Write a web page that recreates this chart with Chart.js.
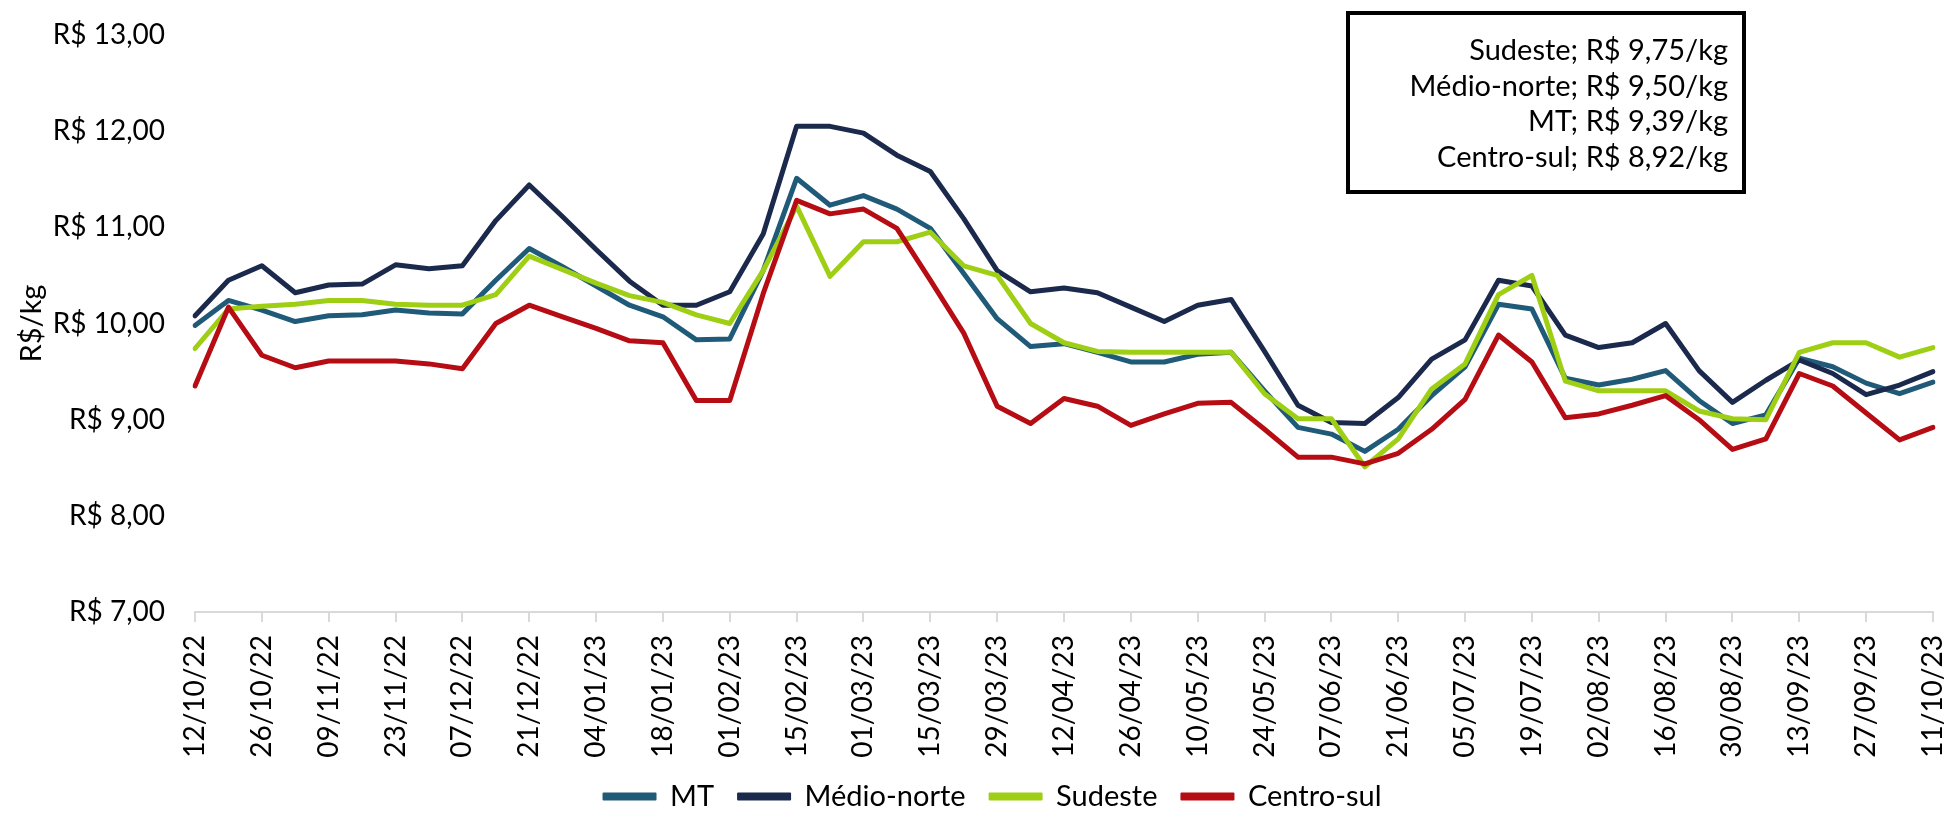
<!DOCTYPE html>
<html>
<head>
<meta charset="utf-8">
<script src="https://cdn.jsdelivr.net/npm/chart.js@4.4.1/dist/chart.umd.min.js"></script>
<style>
  html, body { margin: 0; padding: 0; background: #fff; }
</style>
</head>
<body>
<canvas id="grafico" width="1952" height="813"></canvas>
<script>
// Semanas (quarta-feira)
var datas = [
  "12/10/22", "19/10/22", "26/10/22", "02/11/22", "09/11/22", "16/11/22", "23/11/22", "30/11/22",
  "07/12/22", "14/12/22", "21/12/22", "28/12/22", "04/01/23", "11/01/23", "18/01/23", "25/01/23",
  "01/02/23", "08/02/23", "15/02/23", "22/02/23", "01/03/23", "08/03/23", "15/03/23", "22/03/23",
  "29/03/23", "05/04/23", "12/04/23", "19/04/23", "26/04/23", "03/05/23", "10/05/23", "17/05/23",
  "24/05/23", "31/05/23", "07/06/23", "14/06/23", "21/06/23", "28/06/23", "05/07/23", "12/07/23",
  "19/07/23", "26/07/23", "02/08/23", "09/08/23", "16/08/23", "23/08/23", "30/08/23", "06/09/23",
  "13/09/23", "20/09/23", "27/09/23", "04/10/23", "11/10/23"
];

// Preços R$/kg por região
var precoMT = [
  9.98, 10.24, 10.14, 10.02, 10.08, 10.09, 10.14, 10.11, 10.10, 10.45, 10.78, 10.59, 10.39, 10.19,
  10.07, 9.83, 9.84, 10.55, 11.51, 11.23, 11.33, 11.19, 10.99, 10.52, 10.05, 9.76, 9.79, 9.70,
  9.60, 9.60, 9.68, 9.70, 9.30, 8.92, 8.85, 8.67, 8.90, 9.25, 9.55, 10.20, 10.15, 9.43,
  9.36, 9.42, 9.51, 9.20, 8.96, 9.05, 9.64, 9.55, 9.38, 9.27, 9.39
];
var precoMedioNorte = [
  10.08, 10.45, 10.60, 10.32, 10.40, 10.41, 10.61, 10.57, 10.60, 11.07, 11.44, 11.11, 10.77, 10.44,
  10.19, 10.19, 10.33, 10.93, 12.05, 12.05, 11.98, 11.75, 11.58, 11.09, 10.55, 10.33, 10.37, 10.32,
  10.17, 10.02, 10.19, 10.25, 9.71, 9.15, 8.97, 8.96, 9.23, 9.63, 9.83, 10.45, 10.39, 9.88,
  9.75, 9.80, 10.00, 9.51, 9.18, 9.41, 9.62, 9.48, 9.26, 9.36, 9.50
];
var precoSudeste = [
  9.74, 10.15, 10.18, 10.20, 10.24, 10.24, 10.20, 10.19, 10.19, 10.30, 10.70, 10.56, 10.42, 10.29,
  10.22, 10.09, 10.00, 10.55, 11.22, 10.49, 10.85, 10.85, 10.95, 10.60, 10.50, 10.00, 9.80, 9.71,
  9.70, 9.70, 9.70, 9.70, 9.27, 9.01, 9.01, 8.51, 8.80, 9.32, 9.58, 10.30, 10.50, 9.40,
  9.30, 9.30, 9.30, 9.09, 9.01, 9.00, 9.70, 9.80, 9.80, 9.65, 9.75
];
var precoCentroSul = [
  9.35, 10.17, 9.67, 9.54, 9.61, 9.61, 9.61, 9.58, 9.53, 10.00, 10.19, 10.07, 9.95, 9.82,
  9.80, 9.20, 9.20, 10.31, 11.28, 11.14, 11.19, 10.99, 10.45, 9.90, 9.14, 8.96, 9.22, 9.14,
  8.94, 9.06, 9.17, 9.18, 8.90, 8.61, 8.61, 8.54, 8.65, 8.90, 9.21, 9.88, 9.60, 9.02,
  9.06, 9.15, 9.25, 9.00, 8.69, 8.80, 9.48, 9.35, 9.07, 8.79, 8.92
];

var regioes = ["MT", "Médio-norte", "Sudeste", "Centro-sul"];
var cores = ["#205a79", "#1b2a4c", "#9fcf14", "#b60c13"];
var series = [precoMT, precoMedioNorte, precoSudeste, precoCentroSul];

var fonte = "Lato, 'Open Sans', sans-serif";
Chart.defaults.font.family = fonte;
Chart.defaults.color = "#000";

function formatarReal(v) {
  return "R$ " + v.toFixed(2).replace(".", ",");
}

// Caixa com o último preço de cada região (ordem decrescente)
var caixaUltimoPreco = {
  id: "caixaUltimoPreco",
  afterDraw: function (chart) {
    var ctx = chart.ctx;
    var itens = regioes.map(function (nome, i) {
      return { nome: nome, valor: series[i][series[i].length - 1] };
    });
    itens.sort(function (a, b) { return b.valor - a.valor; });

    ctx.save();
    ctx.fillStyle = "#fff";
    ctx.fillRect(1348, 13, 396, 179);
    ctx.lineWidth = 4;
    ctx.strokeStyle = "#000";
    ctx.strokeRect(1348, 13, 396, 179);

    ctx.fillStyle = "#000";
    ctx.font = "29px " + fonte;
    ctx.textAlign = "right";
    ctx.textBaseline = "middle";
    for (var i = 0; i < itens.length; i++) {
      ctx.fillText(itens[i].nome + "; " + formatarReal(itens[i].valor) + "/kg", 1728, 51 + i * 35.5);
    }
    ctx.restore();
  }
};

var datasets = regioes.map(function (nome, i) {
  return {
    label: nome,
    data: series[i],
    borderColor: cores[i],
    backgroundColor: cores[i],
    borderWidth: 5,
    pointRadius: 0,
    tension: 0,
    borderJoinStyle: "round",
    borderCapStyle: "round",
    order: 4 - i // Centro-sul desenhado por cima
  };
});

new Chart(document.getElementById("grafico"), {
  type: "line",
  data: {
    labels: datas,
    datasets: datasets
  },
  options: {
    responsive: false,
    animation: false,
    layout: {
      padding: { top: 35, right: 19, bottom: -8, left: 52 }
    },
    plugins: {
      tooltip: { enabled: false },
      legend: {
        position: "bottom",
        labels: {
          font: { size: 29 },
          color: "#000",
          boxWidth: 52,
          boxHeight: 6,
          padding: 24,
          sort: function (a, b) { return a.datasetIndex - b.datasetIndex; },
          generateLabels: function (chart) {
            var itens = Chart.defaults.plugins.legend.labels.generateLabels(chart);
            return itens.map(function (it) {
              it.lineWidth = 2;
              it.fillStyle = it.strokeStyle;
              it.lineCap = "round";
              it.lineJoin = "round";
              return it;
            });
          }
        }
      }
    },
    scales: {
      x: {
        offset: false,
        grid: {
          display: true,
          drawOnChartArea: false,
          drawTicks: true,
          tickLength: 10,
          color: "#d9d9d9",
          lineWidth: 2
        },
        border: { display: true, color: "#d9d9d9", width: 2 },
        ticks: {
          autoSkip: false,
          maxRotation: 90,
          minRotation: 90,
          padding: 13,
          font: { size: 28 },
          color: "#000",
          callback: function (valor, indice) {
            return indice % 2 === 0 ? datas[indice] : null;
          }
        },
        afterFit: function (escala) {
          escala.height = 146;
          escala.paddingLeft = 0;
          escala.paddingRight = 0;
        }
      },
      y: {
        min: 7,
        max: 13,
        grid: { display: false, drawTicks: false },
        border: { display: false },
        ticks: {
          stepSize: 1,
          padding: 30,
          font: { size: 28 },
          color: "#000",
          callback: function (valor) {
            return formatarReal(valor);
          }
        },
        title: {
          display: true,
          text: "R$/kg",
          font: { size: 29 },
          color: "#000",
          padding: { top: -38, bottom: 0 }
        },
        afterFit: function (escala) {
          escala.width = 143;
          escala.paddingTop = 0;
          escala.paddingBottom = 0;
        }
      }
    }
  },
  plugins: [caixaUltimoPreco]
});
</script>
</body>
</html>
